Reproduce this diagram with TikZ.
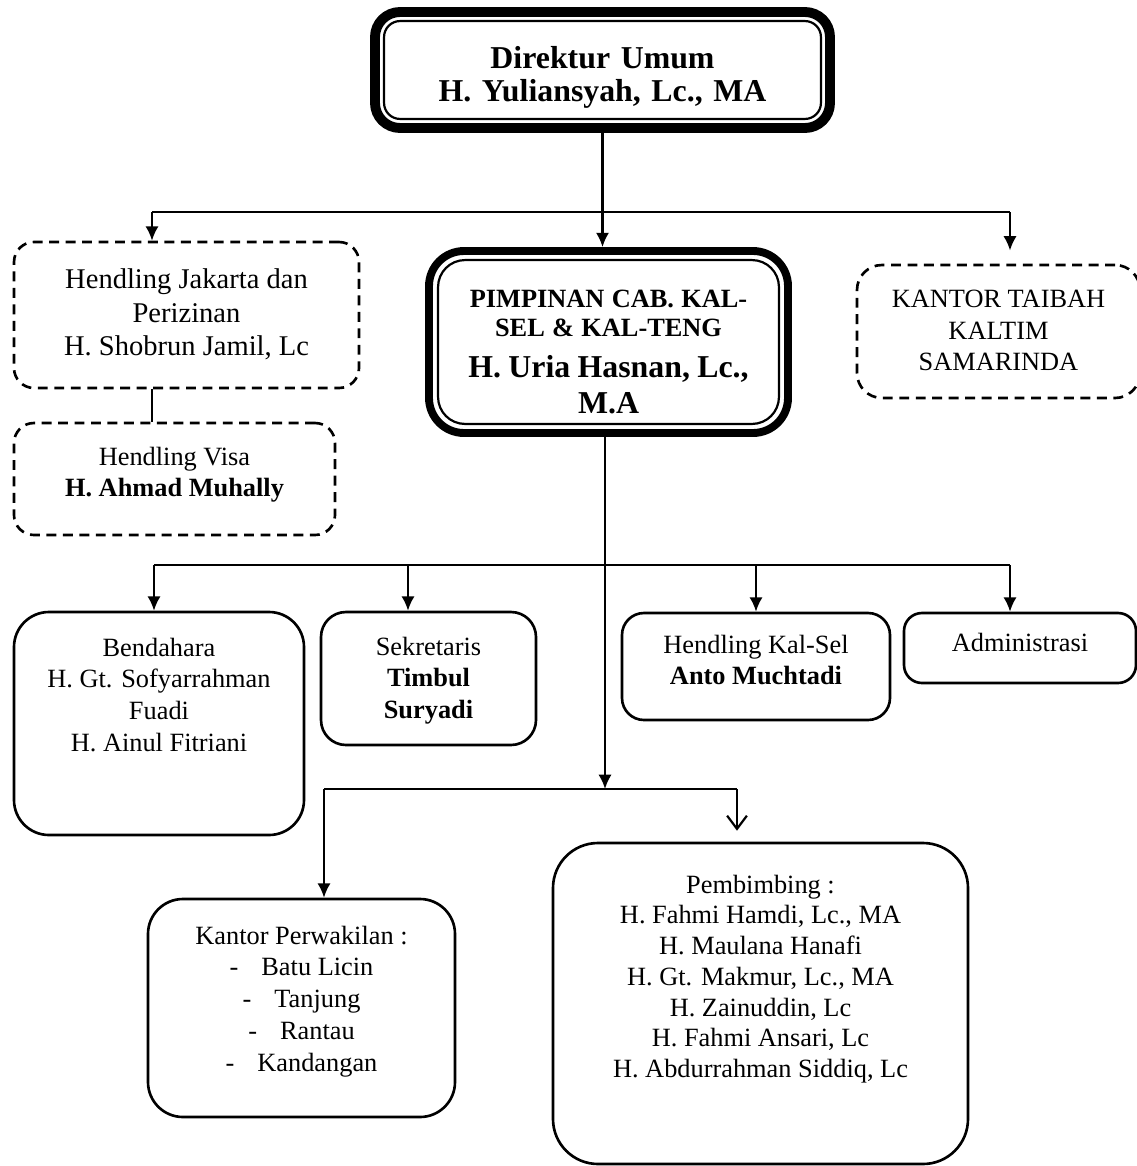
\documentclass[tikz,border=0pt]{standalone}
\usepackage{fontspec}
\setmainfont{Liberation Serif}
\usetikzlibrary{arrows.meta}

\newcommand{\pxu}{0.016cm}

\tikzset{
  box/.style={draw,line width=1.2pt,rounded corners=#1*\pxu},
  box/.default=25,
  dbox/.style={box=#1,dash pattern=on 4.5pt off 3pt},
  dbox/.default=20,
  sz/.style 2 args={minimum width=#1*\pxu,minimum height=#2*\pxu,inner sep=0pt},
  toptext/.style={anchor=north,inner sep=0pt,align=center,yshift=-#1*\pxu},
  arr/.style={-{Latex[length=6.5pt,width=6pt]}},
  barb/.style={-{Straight Barb[length=6pt,width=9pt]}},
}

\begin{document}
\begin{tikzpicture}[x=\pxu,y=-\pxu,line width=1pt,font=\fontsize{12}{14.5}\selectfont]
\useasboundingbox (0,0) rectangle (1137,1166);

% direktur & pimpinan cabang
\node[box=25,line width=4.5pt,sz={455}{116},text width=420*\pxu,align=center,
  font=\fontsize{14.5}{15}\selectfont\bfseries] (dir) at (602.5,70)
  {\vskip2pt Direktur Umum\\H. Yuliansyah, Lc., MA};
\draw[rounded corners=16*\pxu] ([shift={(14,14)}]dir.north west) rectangle ([shift={(-14,-14)}]dir.south east);

\node[box=35,line width=3.6pt,sz={359}{182},text width=340*\pxu,align=center,font=\bfseries] (pimp) at (608.5,342)
  {\vskip3.5pt{\fontsize{12}{13.2}\selectfont PIMPINAN CAB. KAL-\\SEL \& KAL-TENG\par}\vskip3pt
   {\fontsize{14.5}{16}\selectfont H. Uria Hasnan, Lc.,\\M.A\par}};
\draw[rounded corners=27*\pxu] ([shift={(13,13)}]pimp.north west) rectangle ([shift={(-13,-13)}]pimp.south east);

% cabang samping (garis putus)
\node[dbox=20,sz={345}{146},label={[toptext=27,font=\fontsize{13}{15.3}\selectfont]north:{Hendling Jakarta dan\\Perizinan\\H. Shobrun Jamil, Lc}}] (hjkt) at (186.5,315) {};
\node[dbox=20,sz={321}{112},label={[toptext=24]north:{Hendling Visa\\\textbf{H. Ahmad Muhally}}}] (hvisa) at (174.5,479) {};
\node[dbox=25,sz={283}{133},label={[toptext=25]north:{KANTOR TAIBAH\\KALTIM\\SAMARINDA}}] (taibah) at (998.5,331.5) {};

% staf
\node[box=35,sz={290}{223},label={[toptext=26]north:{Bendahara\\H. Gt. Sofyarrahman\\Fuadi\\H. Ainul Fitriani}}] (bend) at (159,723.5) {};
\node[box=25,sz={215}{133},label={[toptext=25]north:{Sekretaris\\\textbf{Timbul}\\\textbf{Suryadi}}}] (sekr) at (428.5,678.5) {};
\node[box=22,sz={268}{107},label={[toptext=22]north:{Hendling Kal-Sel\\\textbf{Anto Muchtadi}}}] (kalsel) at (756,666.5) {};
\node[box=18,sz={232}{70},label={[toptext=20]north:{Administrasi}}] (admin) at (1020,648) {};

% bawah
\node[box=35,sz={307}{218},label={[toptext=27]north:{Kantor Perwakilan :\\-\hspace{10.5pt}Batu Licin\\-\hspace{10.5pt}Tanjung\\-\hspace{10.5pt}Rantau\\-\hspace{10.5pt}Kandangan}}] (kperw) at (301.5,1008) {};
\node[box=45,sz={415}{321},label={[toptext=32,font=\fontsize{12}{14}\selectfont]north:{Pembimbing :\\H. Fahmi Hamdi, Lc., MA\\H. Maulana Hanafi\\H. Gt. Makmur, Lc., MA\\H. Zainuddin, Lc\\H. Fahmi Ansari, Lc\\H. Abdurrahman Siddiq, Lc}}] (pemb) at (760.5,1003.5) {};

% garis komando atas
\coordinate (t1) at (152,212);
\coordinate (t2) at (1010,212);
\draw[arr] (dir.south) -- (dir.south |- pimp.north);
\draw (t1) -- (t2);
\draw[arr] (t1) -- (t1 |- hjkt.north);
\draw[arr,shorten >=6pt] (t2) -- (t2 |- taibah.north);
\draw (t1 |- hjkt.south) -- (t1 |- hvisa.north);

% garis ke staf
\coordinate (u1) at (154,565);
\coordinate (u2) at (408,565);
\coordinate (u3) at (756,565);
\coordinate (u4) at (1010,565);
\coordinate (s1) at (605,789);
\draw (u1) -- (u4);
\draw[arr] (u1) -- (u1 |- bend.north);
\draw[arr] (u2) -- (u2 |- sekr.north);
\draw[arr] (u3) -- (u3 |- kalsel.north);
\draw[arr] (u4) -- (u4 |- admin.north);
\draw[arr] (s1 |- pimp.south) -- (s1);

% perwakilan & pembimbing
\coordinate (w1) at (324,789);
\coordinate (w2) at (737,789);
\draw (w1) -- (w2);
\draw[arr] (w1) -- (w1 |- kperw.north);
\draw[barb,shorten >=5pt] (w2) -- (w2 |- pemb.north);

\end{tikzpicture}
\end{document}
